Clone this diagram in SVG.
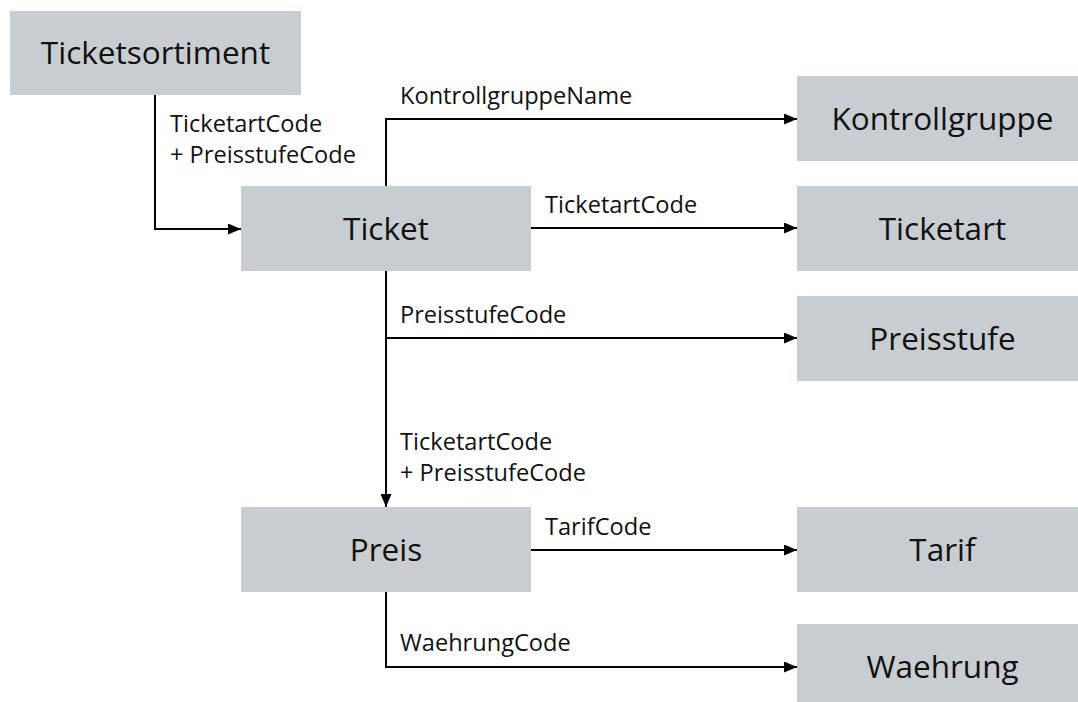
<svg xmlns="http://www.w3.org/2000/svg" width="1078" height="702" viewBox="0 0 1078 702">
  <style>
    .box { fill: #C8CDD2; }
    .node-text { font-family: "Open Sans", "Liberation Sans", sans-serif; font-size: 31.5px; fill: #111; text-anchor: middle; }
    .label { font-family: "Open Sans", "Liberation Sans", sans-serif; font-size: 23.6px; fill: #111; }
    .edge { fill: none; stroke: #000; stroke-width: 2; }
  </style>
  <defs>
    <marker id="arrow" viewBox="0 0 13 11" refX="13" refY="5.5" markerWidth="13" markerHeight="11" markerUnits="userSpaceOnUse" orient="auto">
      <path d="M0,0 L13,5.5 L0,11 Z" fill="#000"/>
    </marker>
  </defs>
  <rect width="1078" height="702" fill="#fff"/>

  <!-- connectors -->
  <g id="connectors">
    <path class="edge" d="M155,95 V229 H241" marker-end="url(#arrow)"/>
    <path class="edge" d="M386,186 V119 H797" marker-end="url(#arrow)"/>
    <path class="edge" d="M531,228 H797" marker-end="url(#arrow)"/>
    <path class="edge" d="M386,271 V507" marker-end="url(#arrow)"/>
    <path class="edge" d="M386,338 H797" marker-end="url(#arrow)"/>
    <path class="edge" d="M531,550 H797" marker-end="url(#arrow)"/>
    <path class="edge" d="M386,592 V667 H797" marker-end="url(#arrow)"/>

    <text class="label" x="170" y="132">TicketartCode</text>
    <text class="label" x="170" y="163">+ PreisstufeCode</text>
    <text class="label" x="400" y="104">KontrollgruppeName</text>
    <text class="label" x="545" y="213">TicketartCode</text>
    <text class="label" x="400" y="323">PreisstufeCode</text>
    <text class="label" x="400" y="450">TicketartCode</text>
    <text class="label" x="400" y="481">+ PreisstufeCode</text>
    <text class="label" x="545" y="535">TarifCode</text>
    <text class="label" x="400" y="651">WaehrungCode</text>
  </g>

  <!-- nodes -->
  <g id="ticketsortiment">
    <rect class="box" x="10" y="11" width="291" height="84"/>
    <text class="node-text" x="155.5" y="64">Ticketsortiment</text>
  </g>
  <g id="ticket">
    <rect class="box" x="241" y="186" width="290" height="85"/>
    <text class="node-text" x="386" y="240">Ticket</text>
  </g>
  <g id="preis">
    <rect class="box" x="241" y="507" width="290" height="85"/>
    <text class="node-text" x="386" y="561">Preis</text>
  </g>
  <g id="kontrollgruppe">
    <rect class="box" x="797" y="76" width="291" height="85"/>
    <text class="node-text" x="942.5" y="130">Kontrollgruppe</text>
  </g>
  <g id="ticketart">
    <rect class="box" x="797" y="186" width="291" height="85"/>
    <text class="node-text" x="942.5" y="240">Ticketart</text>
  </g>
  <g id="preisstufe">
    <rect class="box" x="797" y="296" width="291" height="85"/>
    <text class="node-text" x="942.5" y="350">Preisstufe</text>
  </g>
  <g id="tarif">
    <rect class="box" x="797" y="507" width="291" height="85"/>
    <text class="node-text" x="942.5" y="561">Tarif</text>
  </g>
  <g id="waehrung">
    <rect class="box" x="797" y="624" width="291" height="85"/>
    <text class="node-text" x="942.5" y="678">Waehrung</text>
  </g>
</svg>
